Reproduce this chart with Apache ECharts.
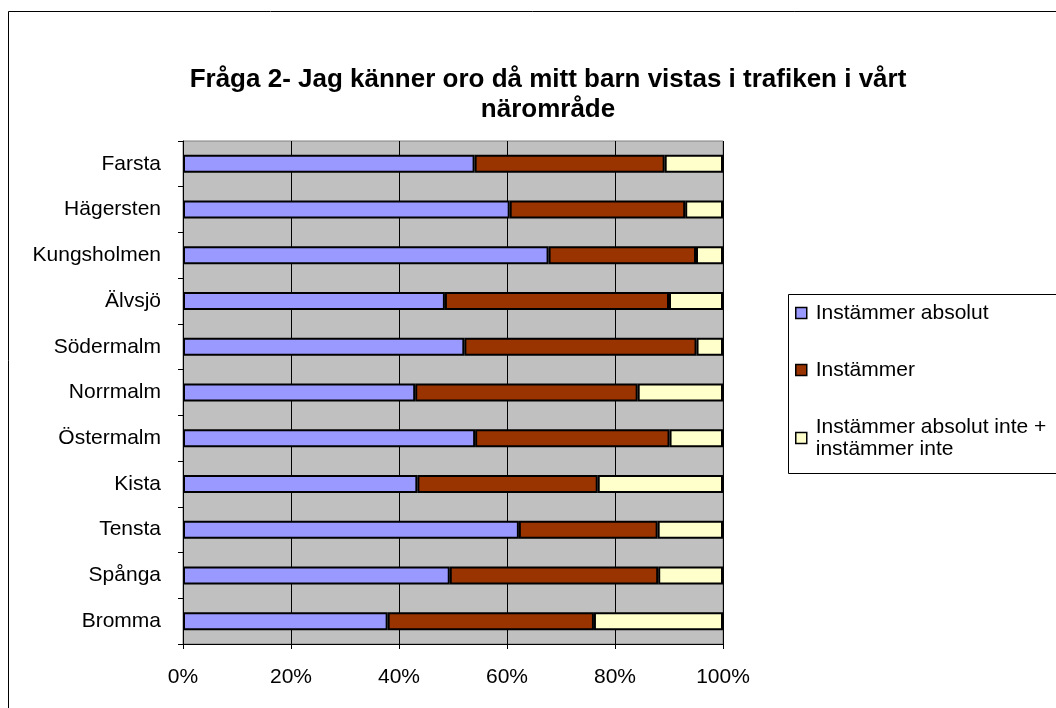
<!DOCTYPE html>
<html>
<head>
<meta charset="utf-8">
<script src="https://cdn.jsdelivr.net/npm/echarts@6/dist/echarts.min.js"></script>
<style>
html,body{margin:0;padding:0;background:#fff;}
#chart{width:1056px;height:708px;}
</style>
</head>
<body>
<div id="chart"></div>
<script>
const categories = ['Farsta','Hägersten','Kungsholmen','Älvsjö','Södermalm','Norrmalm','Östermalm','Kista','Tensta','Spånga','Bromma'];
const instammerAbsolut = [54.0, 60.5, 67.7, 48.5, 52.1, 43.0, 54.1, 43.4, 62.2, 49.4, 37.9];
const instammer =        [35.2, 32.5, 27.3, 41.5, 43.0, 41.2, 36.0, 33.4, 25.7, 38.6, 38.2];
const instammerInte =    [10.8,  7.0,  5.0, 10.0,  4.9, 15.8,  9.9, 23.2, 12.1, 12.0, 23.9];
const seriesNames = ['Instämmer absolut','Instämmer','Instämmer absolut inte +\ninstämmer inte'];
const xTicks = [0, 20, 40, 60, 80, 100];

const font = '"Liberation Sans", Arial, sans-serif';
const chart = echarts.init(document.getElementById('chart'), null, {renderer:'canvas'});
const colors = ['#9999FF','#993300','#FFFFCC'];
const datasets = [instammerAbsolut, instammer, instammerInte];

chart.setOption({
  animation: false,
  textStyle: {fontFamily: font},
  graphic: [
    {type:'rect', shape:{x:8.5, y:11.5, width:1100, height:750}, style:{fill:'none', stroke:'#000', lineWidth:1}, z:-10},
    {type:'rect', shape:{x:788.5, y:294.5, width:400, height:179}, style:{fill:'#fff', stroke:'#000', lineWidth:1}, z:-5}
  ],
  title: {
    text: 'Fråga 2- Jag känner oro då mitt barn vistas i trafiken i vårt\nnärområde',
    left: 543, top: 60, textAlign: 'center',
    textStyle: {fontFamily: font, fontSize: 26, fontWeight: 'bold', color:'#000', lineHeight: 30}
  },
  legend: {
    orient: 'vertical',
    left: 790, top: 297,
    itemWidth: 11, itemHeight: 11, itemGap: 35,
    icon: 'rect',
    textStyle: {fontFamily: font, fontSize: 21, color:'#000', padding:[0,0,0,4], lineHeight: 22},
    data: seriesNames.map((n,i)=>({name:n, itemStyle:{color:colors[i], borderColor:'#000', borderWidth:1.5}}))
  },
  grid: {left: 183, right: 333, top: 141, bottom: 64, show: true, backgroundColor:'#C0C0C0', borderColor:'#808080', borderWidth:1},
  xAxis: {
    type: 'value', min: 0, max: 100, interval: 20,
    axisLine: {show:true, lineStyle:{color:'#000', width:1}},
    axisTick: {show:true, length:5, lineStyle:{color:'#000'}},
    axisLabel: {formatter: v => xTicks.includes(v) ? v + '%' : '', fontFamily: font, fontSize: 21, color:'#000', margin: 23},
    splitLine: {show:true, lineStyle:{color:'#000', width:1}}
  },
  yAxis: {
    type: 'category', inverse: true, data: categories,
    axisLine: {show:true, lineStyle:{color:'#000', width:1}},
    axisTick: {show:true, length:5, lineStyle:{color:'#000'}},
    axisLabel: {fontFamily: font, fontSize: 21, color:'#000', margin: 22},
    splitLine: {show:false}
  },
  series: datasets.map((d,i)=>({
    name: seriesNames[i],
    type: 'bar', stack: 'total',
    data: d,
    barWidth: 18,
    itemStyle: {color: colors[i], borderColor:'#000', borderWidth: 2}
  }))
});
</script>
</body>
</html>
